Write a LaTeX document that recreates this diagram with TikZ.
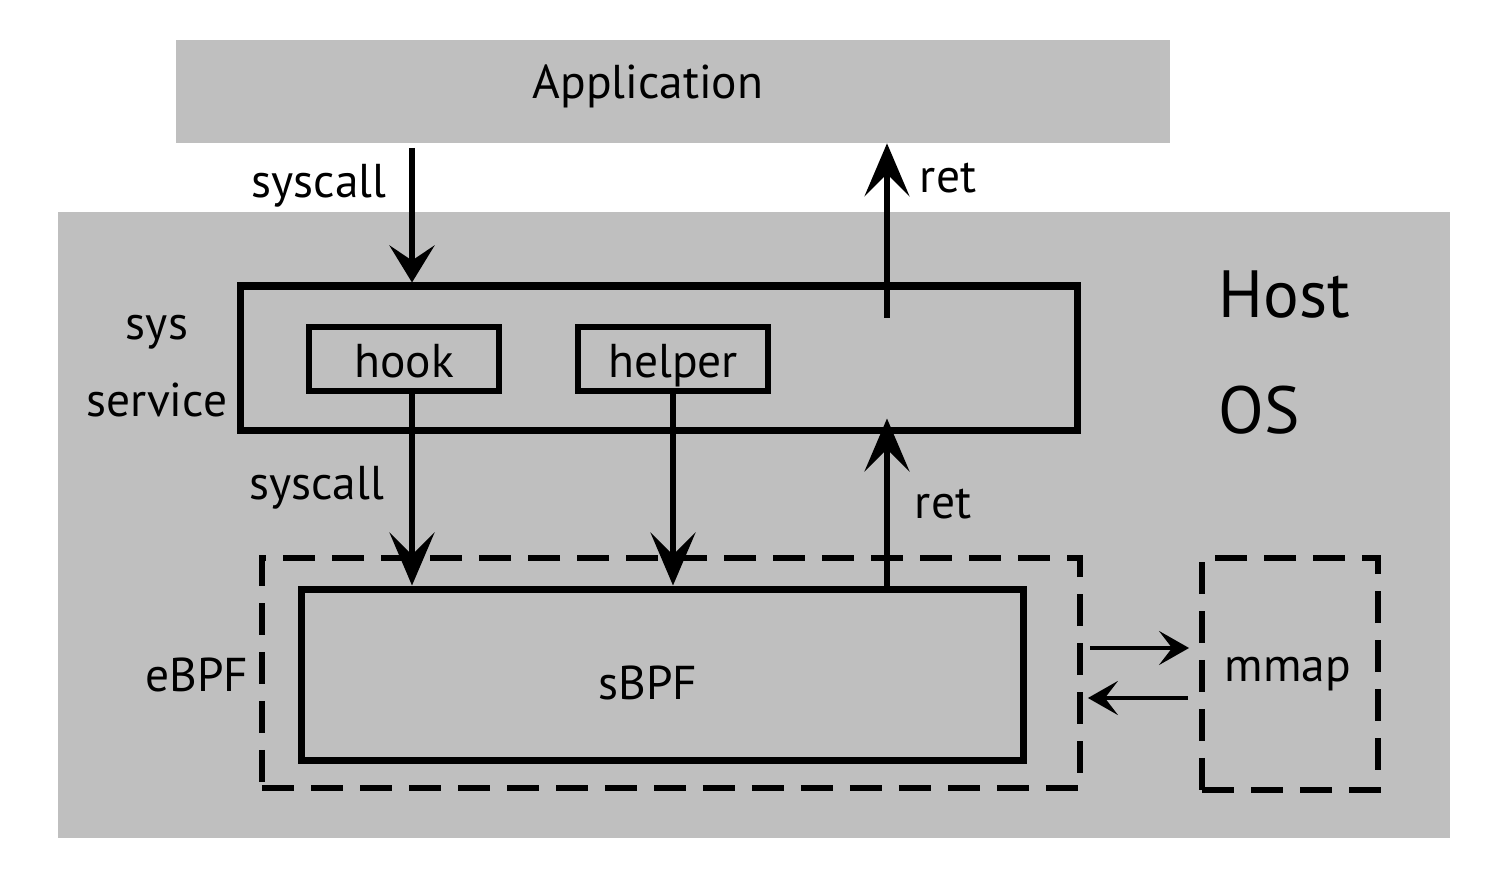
\documentclass[tikz,border=0pt]{standalone}
\usepackage{fontspec}
\setmainfont{PT Sans}
\usepackage{tikz}
\usetikzlibrary{arrows.meta,positioning}
\definecolor{boxgrau}{RGB}{191,191,191}

\begin{document}
\begin{tikzpicture}[x=0.02cm,y=-0.02cm,
		txt/.style={font=\fontsize{27}{32}\selectfont, inner sep=0pt},
		box/.style={draw, line width=4pt, inner sep=0pt},
		dbox/.style={draw, line width=3.4pt, inner sep=0pt, dash pattern=on 0.64cm off 0.34cm},
		pfeil/.style={line width=3.4pt, -{Stealth[length=1.06cm,width=0.9cm,inset=0.45cm]}},
		kpfeil/.style={line width=3.4pt, -{Stealth[length=0.74cm,width=0.9cm,inset=0.3cm]}},
		dpfeil/.style={line width=2.2pt, -{Stealth[length=0.6cm,width=0.68cm,inset=0.26cm]}}]
		\useasboundingbox (0,0) rectangle (1508,874);

		% Flaechen
		\node[fill=boxgrau, minimum width=19.88cm, minimum height=2.06cm, inner sep=0pt] (app) at (673,91.5) {};
		\node[fill=boxgrau, minimum width=27.84cm, minimum height=12.52cm, inner sep=0pt] (host) at (754,525) {};

		% Kaesten
		\node[box, minimum width=16.76cm, minimum height=2.9cm] (sys) at (659,358.5) {};
		\node[box, line width=3.4pt, minimum width=3.8cm, minimum height=1.28cm, txt, text height=0.86cm, text depth=0.1cm] (hook) at (404,359) {hook};
		\node[box, line width=3.4pt, minimum width=3.8cm, minimum height=1.28cm, txt, text height=0.86cm, text depth=0.1cm] (helper) at (673,359) {helper};
		\node[dbox, minimum width=16.36cm, minimum height=4.6cm] (ebpf) at (671,673) {};
		\node[box, minimum width=14.46cm, minimum height=3.44cm] (sbpf) at (662.5,675) {};
		\node[dbox, minimum width=3.52cm, minimum height=4.64cm] (mmap) at (1290,674) {};

		% Texte
		\node[txt] (apptxt) at (648,86) {Application};
		\node[txt] (sbpftxt) at (648,683) {sBPF};
		\node[txt] (mmaptxt) at (1288,674) {mmap};
		\node[txt] (ebpftxt) at (197,675) {eBPF};
		\node[txt] (systxt) at (157,332) {sys};
		\node[txt] (servtxt) at (157,400) {service};
		\node[txt, anchor=west] (hosttxt) at (1218,295) {\fontsize{38}{44}\selectfont Host};
		\node[txt, anchor=west] (ostxt) at (1218,410) {\fontsize{38}{44}\selectfont OS};

		% Koordinaten
		\coordinate (s1) at (412,148);
		\coordinate (r1) at (887,318);
		\coordinate (s2) at (412,391);
		\coordinate (r2) at (887,589);
		\coordinate (m1) at (1090,648);
		\coordinate (m2) at (1188,698);

		% Pfeile
		\draw[kpfeil] (s1) -- (s1 |- sys.north) node[pos=0.28, left=0.45cm, txt] (sc1) {syscall};
		\draw[pfeil] (r1) -- (r1 |- app.south) node[pos=0.8, right=0.6cm, txt] (ret1) {ret};
		\draw[pfeil] (s2) -- (s2 |- sbpf.north) node[pos=0.5, left=0.5cm, txt] (sc2) {syscall};
		\draw[pfeil] (helper.south) -- (helper.south |- sbpf.north);
		\draw[pfeil] (r2) -- ([yshift=0.32cm]r2 |- sys.south) node[pos=0.5, right=0.5cm, txt] (ret2) {ret};
		\draw[dpfeil] (m1) -- ([xshift=-0.2cm]m1 -| mmap.west);
		\draw[dpfeil] (m2) -- ([xshift=0.1cm]m2 -| ebpf.east);
	\end{tikzpicture}
\end{document}
